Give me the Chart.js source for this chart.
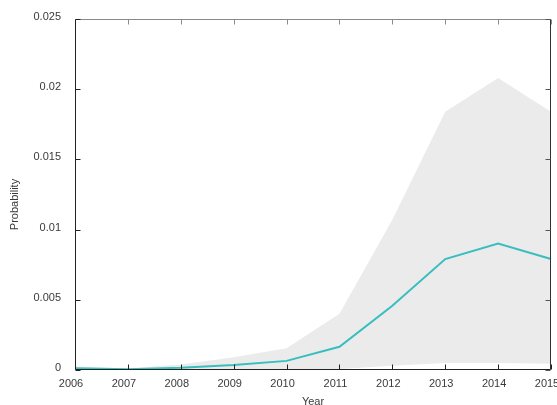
<!DOCTYPE html>
<html>
<head>
<meta charset="utf-8">
<script src="https://cdn.jsdelivr.net/npm/chart.js@4/dist/chart.umd.min.js"></script>
<style>
  html, body { margin: 0; padding: 0; background: #fff; }
  #wrap { width: 557px; height: 405px; }
</style>
</head>
<body>
<div id="wrap"><canvas id="c" width="557" height="405"></canvas></div>
<script>
// Years on the horizontal axis
const years = ['2006','2007','2008','2009','2010','2011','2012','2013','2014','2015'];
// Estimated probability per year
const probability = [0.00012, 0.00005, 0.00016, 0.00036, 0.00065, 0.00165, 0.00457, 0.0079, 0.009, 0.0079];
// Upper and lower edges of the uncertainty band
const bandUpper = [0.00025, 0.0001, 0.0004, 0.0009, 0.00155, 0.004, 0.0107, 0.0184, 0.0208, 0.0184];
const bandLower = [0, 0, 0.00001, 0.00002, 0.00003, 0.00007, 0.0003, 0.0005, 0.0005, 0.00045];
// Vertical axis tick labels
const yTickLabels = ['0', '0.005', '0.01', '0.015', '0.02', '0.025'];
const yTitle = 'Probability';

const FONT = 'Liberation Sans, Arial, sans-serif';
const TEXT = '#3a3a3a';
const TICK = 5;

// Box frame with inward-pointing tick marks on all four sides,
// plus the rotated vertical axis title sitting a little below centre
const framePlugin = {
  id: 'frame',
  afterDatasetsDraw(chart) {
    const { ctx, chartArea: a, scales: { x, y } } = chart;
    ctx.save();
    ctx.lineWidth = 1;
    const line = (x1, y1, x2, y2, color) => {
      ctx.strokeStyle = color;
      ctx.beginPath();
      ctx.moveTo(x1, y1);
      ctx.lineTo(x2, y2);
      ctx.stroke();
    };
    const L = Math.round(a.left) + 0.5, R = Math.round(a.right) - 0.5;
    const T = Math.round(a.top) + 0.5, B = Math.round(a.bottom) - 0.5;
    // top border and ticks (grey)
    line(L, T, R, T, '#8a8a8a');
    x.ticks.forEach((t, i) => {
      const px = Math.round(x.getPixelForTick(i)) + 0.5;
      line(px, T, px, T + TICK, '#8a8a8a');
    });
    // bottom border and ticks
    line(L, B, R, B, '#222');
    x.ticks.forEach((t, i) => {
      const px = Math.round(x.getPixelForTick(i)) + 0.5;
      line(px, B, px, B - TICK, '#222');
    });
    // left and right borders and ticks
    line(L, T, L, B, '#222');
    line(R, T, R, B, '#333');
    y.ticks.forEach((t, i) => {
      const py = Math.round(y.getPixelForTick(i)) + 0.5;
      line(L, py, L + TICK, py, '#222');
      line(R, py, R - TICK, py, '#555');
    });
    // vertical axis title
    ctx.fillStyle = TEXT;
    ctx.font = '11px ' + FONT;
    ctx.textAlign = 'center';
    ctx.textBaseline = 'middle';
    ctx.translate(y.left + 15, (a.top + a.bottom) / 2 + 10);
    ctx.rotate(-Math.PI / 2);
    ctx.fillText(yTitle, 0, 0);
    ctx.restore();
  }
};

new Chart(document.getElementById('c'), {
  type: 'line',
  data: {
    labels: years,
    datasets: [
      {
        label: 'upper',
        data: bandUpper,
        borderWidth: 0,
        pointRadius: 0,
        backgroundColor: '#ebebeb',
        fill: '+1',
        order: 2
      },
      {
        label: 'lower',
        data: bandLower,
        borderWidth: 0,
        pointRadius: 0,
        fill: false,
        order: 2
      },
      {
        label: 'Probability',
        data: probability,
        borderColor: '#38bebe',
        borderWidth: 2,
        pointRadius: 0,
        fill: false,
        tension: 0,
        order: 1
      }
    ]
  },
  options: {
    responsive: false,
    animation: false,
    devicePixelRatio: 1,
    layout: { padding: { top: 19, right: 6, bottom: 0, left: 0 } },
    plugins: {
      legend: { display: false },
      tooltip: { enabled: false }
    },
    scales: {
      x: {
        type: 'category',
        offset: false,
        grid: { display: false, drawTicks: false },
        border: { display: false },
        ticks: {
          color: TEXT,
          font: { family: FONT, size: 11 },
          padding: 7,
          labelOffset: -4,
          maxRotation: 0,
          autoSkip: false
        },
        title: {
          display: true,
          text: 'Year',
          color: TEXT,
          font: { family: FONT, size: 11 },
          padding: { top: 0, bottom: -4 }
        },
        afterFit(s) {
          s.height = 35;
          s.paddingLeft = 0;
          s.paddingRight = 0;
        }
      },
      y: {
        min: 0,
        max: 0.025,
        grid: { display: false, drawTicks: false },
        border: { display: false },
        ticks: {
          stepSize: 0.005,
          color: TEXT,
          font: { family: FONT, size: 11 },
          padding: 14,
          labelOffset: -2,
          callback: (v, i) => yTickLabels[i]
        },
        title: { display: false },
        afterFit(s) {
          s.width = 75;
          s.paddingTop = 0;
          s.paddingBottom = 0;
        }
      }
    }
  },
  plugins: [framePlugin]
});
</script>
</body>
</html>
